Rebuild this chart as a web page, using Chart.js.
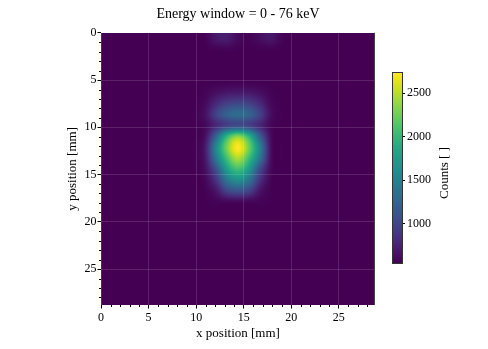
<!DOCTYPE html>
<html>
<head>
<meta charset="utf-8">
<script src="https://cdn.jsdelivr.net/npm/chart.js@4.4.0/dist/chart.umd.min.js"></script>
<style>
html, body { margin: 0; padding: 0; background: #fff; }
#wrap { position: relative; width: 488px; height: 349px; }
#main { position: absolute; left: 0; top: 0; }
#cbar { position: absolute; left: 380px; top: 60px; }
</style>
</head>
<body>
<div id="wrap">
  <canvas id="main" width="488" height="349"></canvas>
  <canvas id="cbar" width="108" height="220"></canvas>
</div>
<script>
// detector extent in mm (both axes)
var sizeMm = 28.8;
var xTicks = [0, 5, 10, 15, 20, 25];
var yTicks = [0, 5, 10, 15, 20, 25];
var cbTicks = [1000, 1500, 2000, 2500];
var titleText = 'Energy window = 0 - 76 keV';

// counts per detector cell, rows top -> bottom, 25 x 25
var counts = [
  [550,550,550,550,550,550,550,550,550,560,690,720,600,560,620,680,570,550,550,550,550,550,550,550,550],
  [550,550,550,550,550,550,550,550,550,550,560,570,555,550,555,560,550,550,550,550,550,550,550,550,550],
  [550,550,550,550,550,550,550,550,550,550,550,550,550,550,550,550,550,550,550,550,550,550,550,550,550],
  [550,550,550,550,550,550,550,550,550,550,550,550,550,550,550,550,550,550,550,550,550,550,550,550,550],
  [550,550,550,550,550,550,550,550,550,550,550,552,555,552,550,550,550,550,550,550,550,550,550,550,550],
  [550,550,550,550,550,550,550,550,550,568,634,684,703,687,634,565,550,550,550,550,550,550,550,550,550],
  [550,550,550,550,550,550,550,550,552,605,802,953,1008,962,802,596,551,550,550,550,550,550,550,550,550],
  [550,550,550,550,550,550,550,550,555,642,970,1221,1313,1237,970,626,552,550,550,550,550,550,550,550,550],
  [550,550,550,550,550,550,550,550,552,595,796,962,1041,960,791,583,551,550,550,550,550,550,550,550,550],
  [550,550,550,550,550,550,550,550,553,640,1250,1977,2326,1945,1200,610,551,550,550,550,550,550,550,550,550],
  [550,550,550,550,550,550,550,550,556,703,1553,2294,2730,2250,1509,637,552,550,550,550,550,550,550,550,550],
  [550,550,550,550,550,550,550,550,555,684,1432,2084,2468,2046,1394,627,552,550,550,550,550,550,550,550,550],
  [550,550,550,550,550,550,550,550,553,640,1100,1771,2076,1740,1050,600,551,550,550,550,550,550,550,550,550],
  [550,550,550,550,550,550,550,550,551,590,880,1422,1640,1400,860,570,550,550,550,550,550,550,550,550,550],
  [550,550,550,550,550,550,550,550,550,560,680,1004,1117,992,670,560,550,550,550,550,550,550,550,550,550],
  [550,550,550,550,550,550,550,550,550,553,570,585,594,584,569,551,550,550,550,550,550,550,550,550,550],
  [550,550,550,550,550,550,550,550,550,550,550,550,550,550,550,550,550,550,550,550,550,550,550,550,550],
  [550,550,550,550,550,550,550,550,550,550,550,550,550,550,550,550,550,550,550,550,550,550,550,550,550],
  [550,550,550,550,550,550,550,550,550,550,550,550,550,550,550,550,550,550,550,550,550,550,550,550,550],
  [550,550,550,550,550,550,550,550,550,550,550,550,550,550,550,550,550,550,550,550,550,550,550,550,550],
  [550,550,550,550,550,550,550,550,550,550,550,550,550,550,550,550,550,550,550,550,550,550,550,550,550],
  [550,550,550,550,550,550,550,550,550,550,550,550,550,550,550,550,550,550,550,550,550,550,550,550,550],
  [550,550,550,550,550,550,550,550,550,550,550,550,550,550,550,550,550,550,550,550,550,550,550,550,550],
  [550,550,550,550,550,550,550,550,550,550,550,550,550,550,550,550,550,550,550,550,550,550,550,550,550],
  [550,550,550,550,550,550,550,550,550,550,550,550,550,550,550,550,550,550,550,550,550,550,550,550,550]
];

Chart.defaults.font.family = "'Liberation Serif', 'Times New Roman', serif";
Chart.defaults.color = '#000';

var nRows = counts.length, nCols = counts[0].length;
var flat = [].concat.apply([], counts);
var vmin = Math.min.apply(null, flat), vmax = Math.max.apply(null, flat);

var viridisStops = ['#440154','#471365','#482475','#463480','#414487','#3b528b','#355f8d',
  '#2f6c8e','#2a788e','#25848e','#21918c','#1e9c89','#22a884','#2fb47c','#44bf70',
  '#5ec962','#7ad151','#9bd93c','#bddf26','#dfe318','#fde725'].map(function (h) {
  return [parseInt(h.substr(1, 2), 16), parseInt(h.substr(3, 2), 16), parseInt(h.substr(5, 2), 16)];
});

function viridis(t) {
  t = Math.max(0, Math.min(1, t));
  var p = t * (viridisStops.length - 1), i = Math.min(Math.floor(p), viridisStops.length - 2), f = p - i;
  var a = viridisStops[i], b = viridisStops[i + 1];
  return [a[0] + (b[0] - a[0]) * f, a[1] + (b[1] - a[1]) * f, a[2] + (b[2] - a[2]) * f];
}

function cubic(p0, p1, p2, p3, t) {
  return p1 + 0.5 * t * (p2 - p0 + t * (2 * p0 - 5 * p1 + 4 * p2 - p3 + t * (3 * (p1 - p2) + p3 - p0)));
}
function cell(r, c) {
  r = Math.max(0, Math.min(nRows - 1, r));
  c = Math.max(0, Math.min(nCols - 1, c));
  return counts[r][c];
}
// bicubic sampling of the cell grid (like imshow interpolation)
function sampleAt(gx, gy) {
  var ix = Math.floor(gx), iy = Math.floor(gy), fx = gx - ix, fy = gy - iy;
  var col = [];
  for (var m = -1; m <= 2; m++) {
    col.push(cubic(cell(iy + m, ix - 1), cell(iy + m, ix), cell(iy + m, ix + 1), cell(iy + m, ix + 2), fx));
  }
  return cubic(col[0], col[1], col[2], col[3], fy);
}

var heatmapPlugin = {
  id: 'heatmap',
  beforeDraw: function (chart) {
    var a = chart.chartArea, xs = chart.scales.x, ys = chart.scales.y, ctx = chart.ctx;
    var x0 = Math.round(a.left), y0 = Math.round(a.top);
    var w = Math.round(a.right) - x0, h = Math.round(a.bottom) - y0;
    var img = ctx.createImageData(w, h);
    var cw = sizeMm / nCols, ch = sizeMm / nRows;
    for (var j = 0; j < h; j++) {
      var yv = ys.getValueForPixel(y0 + j + 0.5);
      for (var i = 0; i < w; i++) {
        var xv = xs.getValueForPixel(x0 + i + 0.5);
        var v = sampleAt(xv / cw - 0.5, yv / ch - 0.5);
        var c = viridis((v - vmin) / (vmax - vmin));
        var k = (j * w + i) * 4;
        img.data[k] = c[0]; img.data[k + 1] = c[1]; img.data[k + 2] = c[2]; img.data[k + 3] = 255;
      }
    }
    ctx.putImageData(img, x0, y0);
  },
  afterDraw: function (chart) {
    var a = chart.chartArea, xs = chart.scales.x, ys = chart.scales.y, ctx = chart.ctx;
    ctx.save();
    ctx.strokeStyle = '#000';
    ctx.lineWidth = 1;
    ctx.beginPath();
    // minor ticks every 1 mm
    for (var v = 1; v < sizeMm; v++) {
      if (v % 5 === 0) continue;
      var px = Math.round(xs.getPixelForValue(v)) + 0.5;
      ctx.moveTo(px, a.bottom); ctx.lineTo(px, a.bottom + 2);
      var py = Math.round(ys.getPixelForValue(v)) + 0.5;
      ctx.moveTo(a.left - 2, py); ctx.lineTo(a.left, py);
    }
    ctx.stroke();
    ctx.strokeStyle = '#444';
    ctx.beginPath();
    ctx.moveTo(Math.round(a.right) - 0.5, a.top);
    ctx.lineTo(Math.round(a.right) - 0.5, a.bottom);
    ctx.stroke();
    ctx.restore();
  }
};

new Chart(document.getElementById('main'), {
  type: 'scatter',
  data: { datasets: [] },
  options: {
    responsive: false,
    animation: false,
    events: [],
    layout: { padding: { left: 60, right: 113, top: 0, bottom: 0 } },
    plugins: {
      legend: { display: false },
      tooltip: { enabled: false },
      title: {
        display: true, text: titleText, fullSize: false,
        font: { size: 14, weight: 'normal' },
        padding: { top: 6, bottom: 10 }
      }
    },
    scales: {
      x: {
        type: 'linear', position: 'bottom', min: 0, max: sizeMm,
        afterBuildTicks: function (s) { s.ticks = xTicks.map(function (v) { return { value: v }; }); },
        afterFit: function (s) { s.height = 44; },
        ticks: { font: { size: 12 }, padding: 2, maxRotation: 0 },
        grid: { color: 'rgba(255,255,255,0.13)', tickColor: '#000', tickLength: 3.5 },
        border: { display: false },
        title: { display: true, text: 'x position [mm]', font: { size: 13 }, padding: { top: 0, bottom: 8 } }
      },
      y: {
        type: 'linear', position: 'left', reverse: true, min: 0, max: sizeMm,
        afterBuildTicks: function (s) { s.ticks = yTicks.map(function (v) { return { value: v }; }); },
        afterFit: function (s) { s.width = 41; },
        ticks: { font: { size: 12 }, padding: 1 },
        grid: { color: 'rgba(255,255,255,0.13)', tickColor: '#000', tickLength: 3.5 },
        border: { display: false },
        title: { display: true, text: 'y position [mm]', font: { size: 13 }, padding: { top: 5, bottom: 0 } }
      }
    }
  },
  plugins: [heatmapPlugin]
});

var colorbarPlugin = {
  id: 'colorbar',
  beforeDraw: function (chart) {
    var a = chart.chartArea, ys = chart.scales.y, ctx = chart.ctx;
    for (var y = Math.round(a.top); y < Math.round(a.bottom); y++) {
      var c = viridis((ys.getValueForPixel(y + 0.5) - vmin) / (vmax - vmin));
      ctx.fillStyle = 'rgb(' + Math.round(c[0]) + ',' + Math.round(c[1]) + ',' + Math.round(c[2]) + ')';
      ctx.fillRect(Math.round(a.left), y, Math.round(a.right) - Math.round(a.left), 1);
    }
  },
  afterDraw: function (chart) {
    var a = chart.chartArea, ctx = chart.ctx;
    ctx.save();
    ctx.strokeStyle = '#333';
    ctx.lineWidth = 1;
    ctx.strokeRect(Math.round(a.left) - 0.5, Math.round(a.top) - 0.5,
      Math.round(a.right) - Math.round(a.left) + 1, Math.round(a.bottom) - Math.round(a.top) + 1);
    ctx.translate(65, 113);
    ctx.rotate(-Math.PI / 2);
    ctx.font = "13px 'Liberation Serif', 'Times New Roman', serif";
    ctx.fillStyle = '#000';
    ctx.textAlign = 'center';
    ctx.textBaseline = 'middle';
    ctx.fillText('Counts [ ]', 0, 0);
    ctx.restore();
  }
};

new Chart(document.getElementById('cbar'), {
  type: 'scatter',
  data: { datasets: [] },
  options: {
    responsive: false,
    animation: false,
    events: [],
    layout: { padding: { left: 13, top: 13, bottom: 17, right: 0 } },
    plugins: { legend: { display: false }, tooltip: { enabled: false } },
    scales: {
      x: { display: false, min: 0, max: 1 },
      y: {
        position: 'right', min: vmin, max: vmax,
        afterBuildTicks: function (s) { s.ticks = cbTicks.map(function (v) { return { value: v }; }); },
        afterFit: function (s) { s.width = 86; },
        ticks: { font: { size: 12 }, padding: 2, callback: function (v) { return String(v); } },
        grid: { drawOnChartArea: false, tickColor: '#000', tickLength: 3 },
        border: { display: false }
      }
    }
  },
  plugins: [colorbarPlugin]
});
</script>
</body>
</html>
